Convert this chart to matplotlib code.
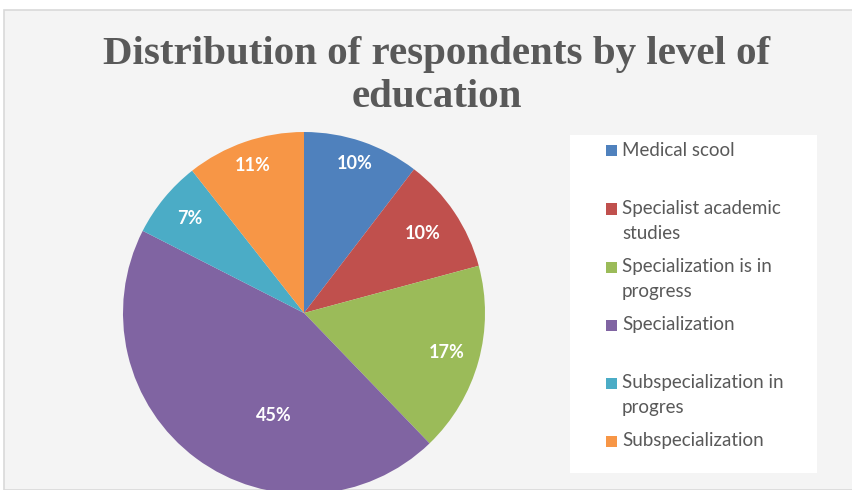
import numpy as np
import matplotlib.pyplot as plt
from matplotlib.patches import Rectangle

# --- data ---
categories = [
    "Medical scool",
    "Specialist academic\nstudies",
    "Specialization is in\nprogress",
    "Specialization",
    "Subspecialization in\nprogres",
    "Subspecialization",
]
shares = [10.4, 10.4, 17.0, 44.7, 6.9, 10.6]
colors = ["#4F81BD", "#C0504D", "#9BBB59", "#8064A2", "#4BACC6", "#F79646"]

# label placement (fraction of radius, angle nudge in degrees)
label_r = [0.87, 0.79, 0.82, 0.59, 0.82, 0.86]
label_nudge = [0, 0, 0, 20, 0, 0]

W, H = 853, 490
fig = plt.figure(figsize=(W / 100, H / 100), dpi=100)
fig.patch.set_facecolor("white")

def fx(px):
    return px / W

def fy(py):
    # pixel from top -> figure fraction
    return 1 - py / H

# chart area background
fig.patches.append(Rectangle((fx(4), 0), fx(W - 4), fy(10), transform=fig.transFigure,
                             facecolor="#f4f4f4", edgecolor="#d9d9d9", lw=1.2, zorder=-10))
# legend box
fig.patches.append(Rectangle((fx(570), fy(473)), fx(817 - 570), (473 - 135) / H,
                             transform=fig.transFigure, facecolor="white",
                             edgecolor="none", zorder=-9))

# title
fig.text(fx(437), fy(76), "Distribution of respondents by level of\neducation",
         ha="center", va="center", fontsize=29.5, fontweight="bold",
         family="Liberation Serif", color="#595959", linespacing=1.22)

# pie
cx, cy, r = 304, 313, 181
ax = fig.add_axes([fx(cx - r), fy(cy + r), 2 * r / W, 2 * r / H])
ax.set_zorder(5)
wedges, _ = ax.pie(shares, colors=colors, startangle=90, counterclock=False,
                   radius=1, wedgeprops=dict(linewidth=0))
ax.set_xlim(-1, 1)
ax.set_ylim(-1, 1)
ax.set_aspect("equal")
ax.axis("off")

for w, s, lr, nd in zip(wedges, shares, label_r, label_nudge):
    ang = np.deg2rad((w.theta1 + w.theta2) / 2 + nd)
    ax.text(lr * np.cos(ang), lr * np.sin(ang), f"{s:.0f}%",
            ha="center", va="center", color="white", fontsize=13,
            fontweight="bold", family="Lato")

# legend
top0, step = 151, 58
for i, (lab, c) in enumerate(zip(categories, colors)):
    yc = top0 + i * step
    fig.patches.append(Rectangle((fx(606), fy(yc + 5.5)), fx(11), 11 / H,
                                 transform=fig.transFigure, facecolor=c,
                                 edgecolor="none", zorder=2))
    fig.text(fx(622), fy(yc - 9), lab, ha="left", va="top", fontsize=13.5,
             family="Lato", color="#595959", linespacing=1.55, zorder=3)

fig.savefig("out.png", dpi=100)
